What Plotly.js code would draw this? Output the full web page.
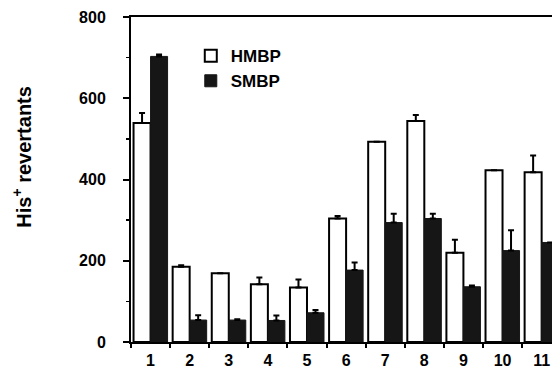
<!DOCTYPE html>
<html>
<head>
<meta charset="utf-8">
<script src="https://cdn.plot.ly/plotly-3.0.1.min.js"></script>
<style>html,body{margin:0;padding:0;background:#fff;}#chart{width:552px;height:375px;}</style>
</head>
<body>
<div id="chart"></div>
<script>
const categories = ['1','2','3','4','5','6','7','8','9','10','11'];
const hmbpValues = [539, 185, 169, 142, 134, 304, 493, 544, 220, 423, 418];
const hmbpErrors = [25, 4, 0, 17, 20, 6, 0, 15, 32, 0, 41];
const smbpValues = [703, 54, 54, 53, 72, 177, 294, 304, 136, 225, 245];
const smbpErrors = [5, 12, 2, 12, 7, 19, 22, 12, 3, 50, 0];
const yTicks = [0, 200, 400, 600, 800];
const yTitle = 'His<sup>+</sup> revertants';

const font = 'Arial, "Liberation Sans", sans-serif';
const errStyle = {type: 'data', symmetric: false, color: '#000', thickness: 2, width: 3};

const traces = [
  {
    type: 'bar', name: 'HMBP', x: categories, y: hmbpValues,
    marker: {color: '#ffffff', line: {color: '#000', width: 2}},
    error_y: Object.assign({array: hmbpErrors, arrayminus: hmbpValues.map(() => 0)}, errStyle)
  },
  {
    type: 'bar', name: 'SMBP', x: categories, y: smbpValues,
    marker: {color: '#161616', line: {color: '#161616', width: 1}},
    error_y: Object.assign({array: smbpErrors, arrayminus: smbpValues.map(() => 0)}, errStyle)
  }
];

const layout = {
  width: 552, height: 375,
  margin: {l: 131, r: 0, t: 17, b: 33, pad: 0},
  paper_bgcolor: '#fff', plot_bgcolor: '#fff',
  barmode: 'group', bargap: 0.13, bargroupgap: 0,
  showlegend: true,
  legend: {
    x: 0.142, y: 0.935, xanchor: 'left', yanchor: 'top',
    font: {family: font, size: 17, color: '#000', weight: 'bold'},
    bgcolor: 'rgba(0,0,0,0)', tracegroupgap: 0, itemwidth: 30
  },
  xaxis: {
    type: 'category', range: [-0.5, 10.265],
    showline: true, linecolor: '#000', linewidth: 2, mirror: true,
    ticks: 'outside', tickson: 'boundaries', ticklen: 4, tickwidth: 2, tickcolor: '#000',
    showgrid: false, zeroline: false,
    tickfont: {family: font, size: 16, color: '#000', weight: 'bold'},
    ticklabelstandoff: 3
  },
  yaxis: {
    range: [0, 800], tickvals: yTicks, ticktext: yTicks.map(String),
    showline: true, linecolor: '#000', linewidth: 2,
    ticks: 'outside', ticklen: 6, tickwidth: 2, tickcolor: '#000',
    minor: {tickvals: [100, 300, 500, 700], ticks: 'outside', ticklen: 3, tickwidth: 1.5, tickcolor: '#000'},
    showgrid: false, zeroline: false,
    tickfont: {family: font, size: 16, color: '#000', weight: 'bold'},
    ticklabelstandoff: 14
  },
  annotations: [{
    text: yTitle, textangle: -90, showarrow: false,
    xref: 'paper', yref: 'paper', x: -0.259, y: 0.57, xanchor: 'center', yanchor: 'middle',
    font: {family: font, size: 20, color: '#000', weight: 'bold'}
  }]
};

Plotly.newPlot('chart', traces, layout, {staticPlot: true, displayModeBar: false});
</script>
</body>
</html>
